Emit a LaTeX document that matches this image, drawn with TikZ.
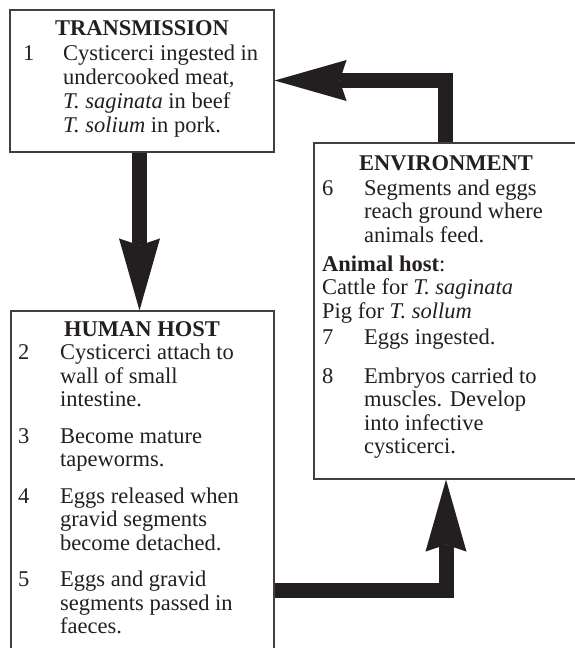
\documentclass[tikz,border=0pt]{standalone}
\usepackage{fontspec}
\setmainfont{Liberation Serif}
\usetikzlibrary{arrows.meta}
\definecolor{ink}{RGB}{35,31,32}
\definecolor{frame}{RGB}{64,64,64}
\newcommand\dgfs{\fontsize{22.5}{24}\selectfont}
\begin{document}
\begin{tikzpicture}[x=1pt,y=-1pt,
  box/.style={draw=frame,line width=1.2pt,inner sep=0pt,rectangle},
  bigarrow/.style={draw=ink,line width=15pt,line join=miter,
    -{Stealth[length=72pt,width=41pt,inset=7pt,line width=0pt]}},
  txt/.style={anchor=base west,inner sep=0pt,font=\dgfs,text=ink},
  hd/.style={anchor=base,inner sep=0pt,font=\dgfs\bfseries,text=ink}]
\useasboundingbox (0,0) rectangle (574,648);
\fill[white] (0,0) rectangle (574,648);

% boxes
\node[box,minimum width=264pt,minimum height=142pt] (trans) at (142,81) {};
\node[box,minimum width=263pt,minimum height=357pt] (human) at (142.5,489.5) {};
\node[box,minimum width=266pt,minimum height=336pt] (env) at (447,311) {};

% TRANSMISSION text
\node[hd] (th) at (142,35.5) {TRANSMISSION};
\node[txt] (tn1) at (23,60.5) {1};
\node[txt] (t1) at (63,60.5) {Cysticerci ingested in};
\node[txt] (t2) at (63,84.5) {undercooked meat,};
\node[txt] (t3) at (63,108.5) {\textit{T. saginata} in beef};
\node[txt] (t4) at (63,132.5) {\textit{T. solium} in pork.};

% HUMAN HOST text
\node[hd] (hh) at (142,336) {HUMAN HOST};
\node[txt] (hn2) at (18,359.5) {2};
\node[txt] (h2a) at (60,359.5) {Cysticerci attach to};
\node[txt] (h2b) at (60,383) {wall of small};
\node[txt] (h2c) at (60,406.5) {intestine.};
\node[txt] (hn3) at (18,443) {3};
\node[txt] (h3a) at (60,443) {Become mature};
\node[txt] (h3b) at (60,466.5) {tapeworms.};
\node[txt] (hn4) at (18,503) {4};
\node[txt] (h4a) at (60,503) {Eggs released when};
\node[txt] (h4b) at (60,526.5) {gravid segments};
\node[txt] (h4c) at (60,550) {become detached.};
\node[txt] (hn5) at (18,586.5) {5};
\node[txt] (h5a) at (60,586.5) {Eggs and gravid};
\node[txt] (h5b) at (60,610) {segments passed in};
\node[txt] (h5c) at (60,633.5) {faeces.};

% ENVIRONMENT text
\node[hd] (eh) at (446,170) {ENVIRONMENT};
\node[txt] (en6) at (322,195) {6};
\node[txt] (e6a) at (364,195) {Segments and eggs};
\node[txt] (e6b) at (364,218.5) {reach ground where};
\node[txt] (e6c) at (364,242) {animals feed.};
\node[txt] (ea1) at (322,271) {\textbf{Animal host}:};
\node[txt] (ea2) at (322,294.5) {Cattle for \textit{T. saginata}};
\node[txt] (ea3) at (322,318) {Pig for \textit{T. sollum}};
\node[txt] (en7) at (322,344) {7};
\node[txt] (e7a) at (364,344) {Eggs ingested.};
\node[txt] (en8) at (322,383) {8};
\node[txt] (e8a) at (364,383) {Embryos carried to};
\node[txt] (e8b) at (364,406.5) {muscles. Develop};
\node[txt] (e8c) at (364,430) {into infective};
\node[txt] (e8d) at (364,453.5) {cysticerci.};

% arrows
\coordinate (dn) at (139.5,0);
\draw[bigarrow] (dn |- trans.south) -- (dn |- human.north);
\coordinate (tb) at (445,80.5);
\draw[bigarrow] (tb |- env.north) -- (tb) -- (tb -| trans.east);
\coordinate (bb) at (446,590.5);
\draw[bigarrow] (bb -| human.east) -- (bb) -- (bb |- env.south);
\end{tikzpicture}
\end{document}
